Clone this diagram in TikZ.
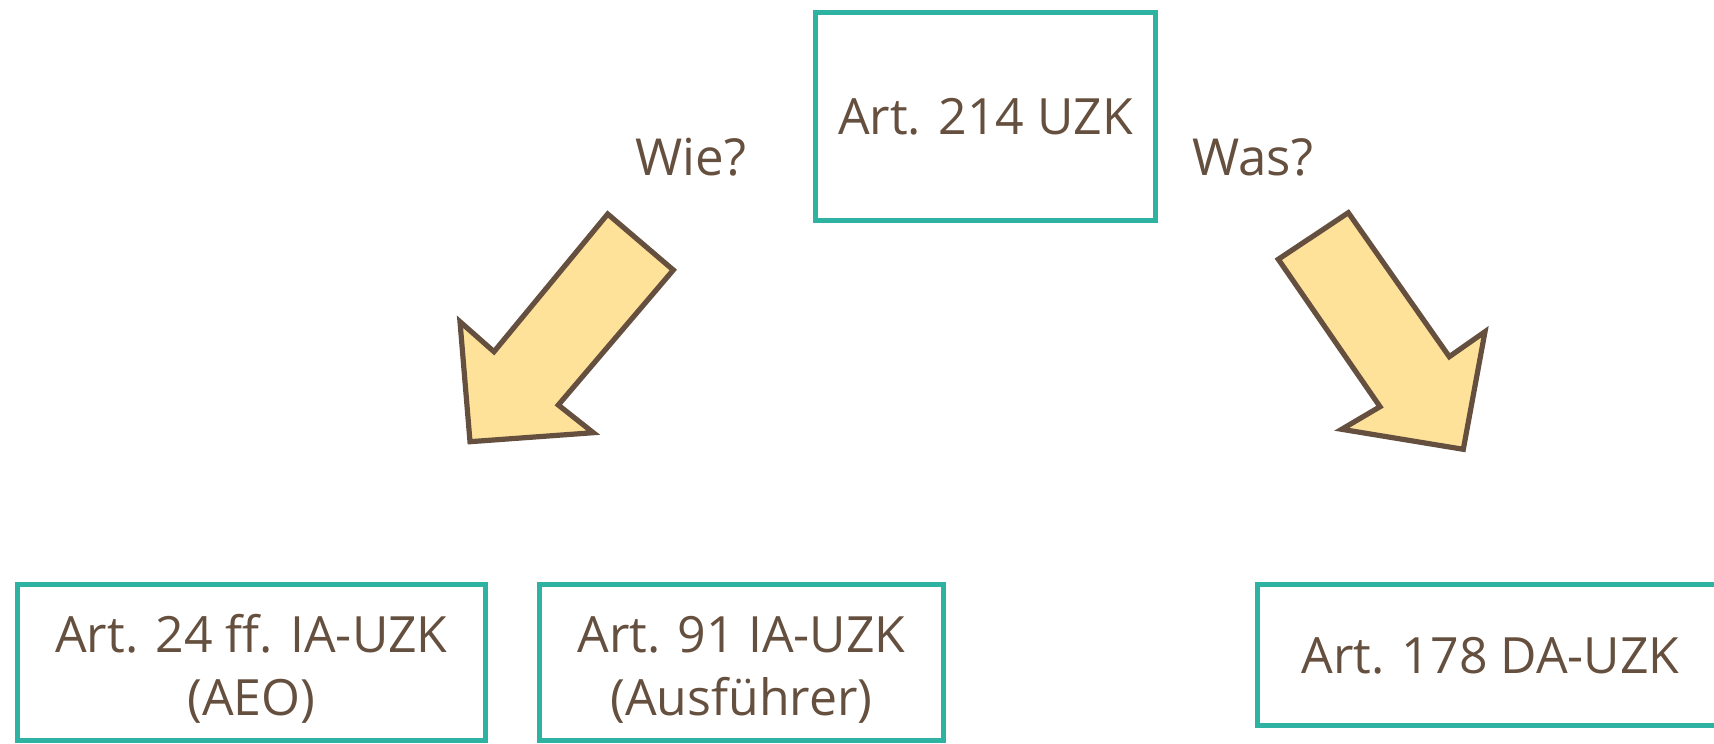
\documentclass[tikz,border=0pt]{standalone}
\usepackage{fontspec}
\setmainfont{Open Sans}
\definecolor{boxteal}{HTML}{2EB2A2}
\definecolor{inkbrown}{HTML}{654F3E}
\definecolor{arrowfill}{HTML}{FFE299}
\tikzset{
  lawbox/.style={draw=boxteal, line width=2.6pt, rectangle, inner sep=0pt,
    text=inkbrown, align=center, font=\fontsize{25}{31.5}\selectfont,
    text height=18pt, text depth=0pt},
  twoline/.style={text height=52.5pt, text depth=0pt},
  question/.style={text=inkbrown, inner sep=0pt, anchor=base west,
    font=\fontsize{25.5}{31.5}\selectfont},
  blockarrow/.style={draw=inkbrown, fill=arrowfill, line width=2.6pt, line join=miter}
}
\begin{document}
\begin{tikzpicture}[x=0.5pt, y=-0.5pt]
  \useasboundingbox (0,0) rectangle (1714,744);
  \clip (0,0) rectangle (1714,744);

  % top article box
  \node[lawbox, minimum width=170pt, minimum height=104pt] (top) at (985.5,116.5) {Art. 214 UZK};

  % question labels
  \node[question] (wie) at (635,175) {Wie?};
  \node[question] (was) at (1192,175) {Was?};

  % block arrows
  \draw[blockarrow] (607.7,214) -- (673.3,270) -- (558.3,405) -- (593.3,432.7)
    -- (470,441.7) -- (460,321.7) -- (494,351.7) -- cycle;
  \draw[blockarrow] (1348.3,212.7) -- (1278.3,259.3) -- (1380,406.7) -- (1341.7,429.3)
    -- (1463.3,449.3) -- (1485,331.7) -- (1449.3,356.7) -- cycle;

  % bottom article boxes
  \node[lawbox, twoline, minimum width=234pt, minimum height=78pt] (aeo) at (251.5,662.5)
    {Art. 24 ff. IA-UZK\\(AEO)};
  \node[lawbox, twoline, minimum width=202pt, minimum height=78pt] (ausf) at (741.5,662.5)
    {Art. 91 IA-UZK\\(Ausführer)};
  \node[lawbox, minimum width=233pt, minimum height=70.5pt] (da) at (1490.5,655)
    {Art. 178 DA-UZK};
\end{tikzpicture}
\end{document}
